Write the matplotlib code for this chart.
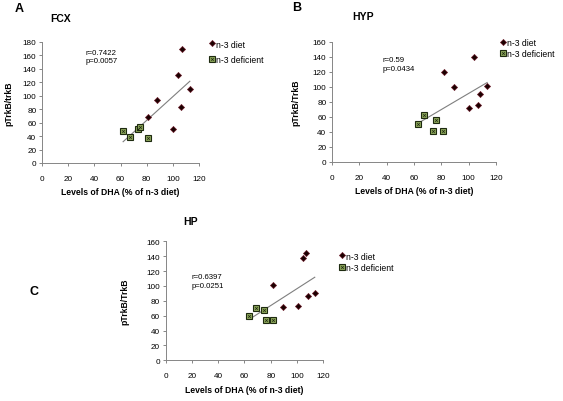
import matplotlib
matplotlib.use('Agg')
import matplotlib.pyplot as plt
import numpy as np
from matplotlib.legend_handler import HandlerTuple

plt.rcParams['font.family'] = ['Liberation Sans', 'DejaVu Sans']

# DHA levels (% of n-3 diet) and pTrkB/TrkB ratios
fcx_diet_x = [81, 88, 100, 104, 106, 107, 113]
fcx_diet_y = [69, 94, 50, 131, 83, 169, 110]
fcx_def_x = [62, 67.5, 73, 75, 81]
fcx_def_y = [47, 39, 51, 53, 37]

hyp_diet_x = [82, 89, 100.5, 104, 106.5, 108, 113.5]
hyp_diet_y = [120, 100, 71, 140, 76, 90, 101]
hyp_def_x = [63, 67.5, 74, 76, 81.5]
hyp_def_y = [50, 62, 41, 56, 41]

hp_diet_x = [82, 89, 101, 104.5, 107, 108, 113.5]
hp_diet_y = [101, 71, 73, 138, 144, 86, 91]
hp_def_x = [63.5, 68.5, 74.5, 76.5, 81.5]
hp_def_y = [59, 70, 67, 54, 54]

panels = [
    # letter, title, ylabel, ymax, r/p text
    ('A', 'FCX', 'pTrkB/trkB', 180, 'r=0.7422\np=0.0057'),
    ('B', 'HYP', 'pTrkB/TrkB', 160, 'r=0.59\np=0.0434'),
    ('C', 'HP', 'pTrkB/TrkB', 160, 'r=0.6397\np=0.0251'),
]
series = [
    (fcx_diet_x, fcx_diet_y, fcx_def_x, fcx_def_y),
    (hyp_diet_x, hyp_diet_y, hyp_def_x, hyp_def_y),
    (hp_diet_x, hp_diet_y, hp_def_x, hp_def_y),
]

W, H = 563, 402
fig = plt.figure(figsize=(W / 100, H / 100), dpi=100)

# axes boxes in pixels: left, top, right, bottom
boxes = [(42, 43, 199, 164), (332, 42.7, 496, 162.7), (165.7, 242.3, 323.3, 361.3)]
letter_pos = [(15, 3), (292, 2), (29, 286)]
title_pos = [(50, 14), (352, 12), (183, 217)]
text_pos = [(33, 170), (36.6, 141), (20, 117)]
legend_pos = [(209.5, 40.5), (500.5, 39.5), (339, 252.5)]
legend_space = [0.75, 0.2, 0.3]
ylabel_pad = [7, 9, 12]

for i, ((letter, title, ylab, ymax, rp), (dx, dy, nx, ny)) in enumerate(zip(panels, series)):
    l, t, r, b = boxes[i]
    ax = fig.add_axes([l / W, 1 - b / H, (r - l) / W, (b - t) / H])

    # regression over all animals, drawn across the x range
    allx = np.array(dx + nx)
    ally = np.array(dy + ny)
    k, c = np.polyfit(allx, ally, 1)
    xx = np.array([allx.min(), allx.max()])
    ax.plot(xx, k * xx + c, color='#7f7f7f', lw=0.8, zorder=1)

    hd, = ax.plot(dx, dy, 'D', ms=3.1, mfc='#1a0000', mec='#6a1a28', mew=0.5,
                  ls='none', zorder=3, clip_on=False)
    hs, = ax.plot(nx, ny, 's', ms=3.7, mfc='#8aa45a', mec='#1e2a10', mew=0.8,
                  ls='none', zorder=3, clip_on=False)
    hx, = ax.plot(nx, ny, 'x', ms=1.9, mec='#1e2a10', mew=0.5,
                  ls='none', zorder=4, clip_on=False)

    ax.set_xlim(0, 120)
    ax.set_ylim(0, ymax)
    ax.set_xticks(np.arange(0, 121, 20))
    ax.set_yticks(np.arange(0, ymax + 1, 20))
    for s in ['top', 'right']:
        ax.spines[s].set_visible(False)
    for s in ['left', 'bottom']:
        ax.spines[s].set_color('#868686')
        ax.spines[s].set_linewidth(0.7)
    ax.tick_params(axis='both', colors='#868686', labelcolor='black',
                   labelsize=5.9, length=2.5, width=0.7)
    ax.tick_params(axis='x', pad=6)
    ax.tick_params(axis='y', pad=1.5)

    ax.set_xlabel('Levels of DHA (% of n-3 diet)', fontsize=6.2,
                  fontweight='bold', labelpad=4)
    ax.set_ylabel(ylab, fontsize=6.2, fontweight='bold', labelpad=ylabel_pad[i])

    ax.text(text_pos[i][0], text_pos[i][1], rp, fontsize=5.6, va='top',
            ha='left', linespacing=1.35)

    ax.legend([hd, (hs, hx)], ['n-3 diet', 'n-3 deficient'],
              handler_map={tuple: HandlerTuple(ndivide=1)},
              loc='upper left',
              bbox_to_anchor=(legend_pos[i][0] / W, 1 - legend_pos[i][1] / H),
              bbox_transform=fig.transFigure, frameon=False, fontsize=6.2,
              handlelength=0.6, handletextpad=0.2, borderpad=0,
              borderaxespad=0, labelspacing=legend_space[i])

    fig.text(letter_pos[i][0] / W, 1 - letter_pos[i][1] / H, letter,
             fontsize=9, fontweight='bold', va='top')
    fig.text(title_pos[i][0] / W, 1 - title_pos[i][1] / H, title,
             fontsize=7.5, fontweight='bold', va='top')

fig.savefig('out.png', dpi=100)
